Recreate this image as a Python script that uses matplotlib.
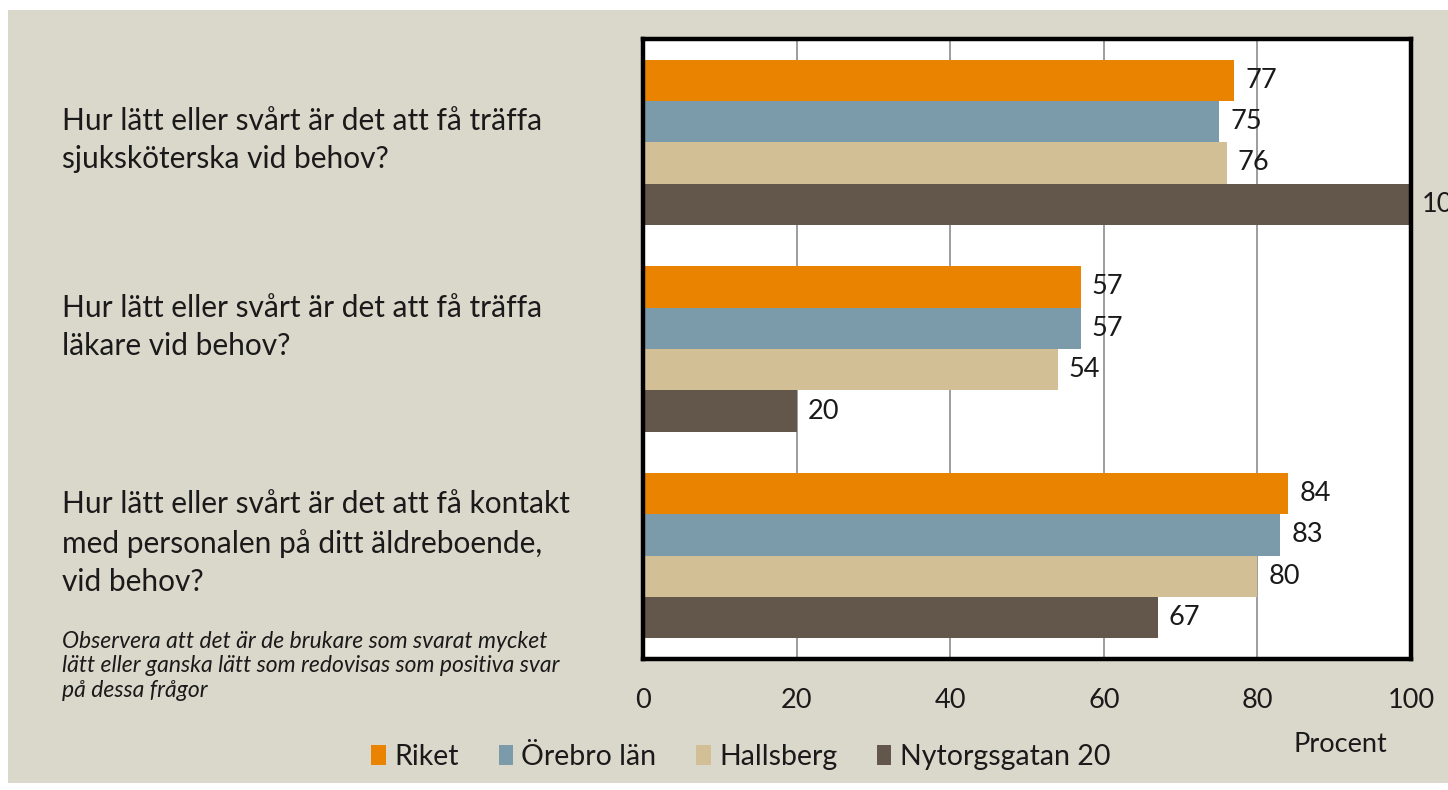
import matplotlib
matplotlib.use("Agg")
import matplotlib.pyplot as plt
from matplotlib.patches import Rectangle, Patch

# ---- data ----
questions = [
    "Hur lätt eller svårt är det att få träffa\nsjuksköterska vid behov?",
    "Hur lätt eller svårt är det att få träffa\nläkare vid behov?",
    "Hur lätt eller svårt är det att få kontakt\nmed personalen på ditt äldreboende,\nvid behov?",
]
series_names = ["Riket", "Örebro län", "Hallsberg", "Nytorgsgatan 20"]
riket = [77, 57, 84]
orebro = [75, 57, 83]
hallsberg = [76, 54, 80]
nytorg = [100, 20, 67]
series_values = [riket, orebro, hallsberg, nytorg]
colors = ["#E98300", "#7B9BAB", "#D3BF96", "#63564A"]
x_ticks = [0, 20, 40, 60, 80, 100]
note = ("Observera att det är de brukare som svarat mycket\n"
        "lätt eller ganska lätt som redovisas som positiva svar\n"
        "på dessa frågor")
x_label = "Procent"

FONT = ["Lato", "DejaVu Sans"]
plt.rcParams["font.family"] = FONT

W, H = 1448, 790
fig = plt.figure(figsize=(W / 100, H / 100), dpi=100, facecolor="white")

# beige background panel
bg = Rectangle((8 / W, 1 - 783 / H), 1 - 8 / W, (783 - 10) / H,
               transform=fig.transFigure, facecolor="#DAD7CB",
               edgecolor="none", zorder=-10)
fig.patches.append(bg)

ax = fig.add_axes([643 / W, 1 - 659 / H, (1411 - 643) / W, (659 - 39) / H])
ax.set_zorder(2)
ax.set_facecolor("white")

bar_h = 0.2
offsets = [-0.3, -0.1, 0.1, 0.3]
for name, vals, col, off in zip(series_names, series_values, colors, offsets):
    ys = [i + off for i in range(len(questions))]
    ax.barh(ys, vals, height=bar_h, color=col, label=name, zorder=3,
            clip_on=False)
    for y, v in zip(ys, vals):
        ax.annotate(f"{v}", xy=(v, y), xytext=(8, 0),
                    textcoords="offset points", va="center", ha="left",
                    fontsize=19.5, color="#1a1a1a", annotation_clip=False,
                    zorder=5)

ax.set_xlim(0, 100)
ax.set_ylim(2.5, -0.5)
ax.set_xticks(x_ticks)
ax.set_xticklabels([str(t) for t in x_ticks], fontsize=19.5, color="#1a1a1a")
ax.tick_params(axis="x", length=0, pad=21)
ax.set_yticks([])
ax.grid(axis="x", color="#8c8c8c", linewidth=1.2, zorder=1)
ax.set_axisbelow(True)
for s in ax.spines.values():
    s.set_linewidth(3.2)
    s.set_color("black")
    s.set_zorder(6)

# category labels
label_y_px = [140, 327, 543]
for q, ypx in zip(questions, label_y_px):
    fig.text(62 / W, 1 - ypx / H, q, ha="left", va="center", fontsize=21.5,
             color="#1a1a1a", linespacing=1.45)

# note
fig.text(62 / W, 1 - 666 / H, note, ha="left", va="center", fontsize=16.5,
         style="italic", color="#1a1a1a", linespacing=1.2)

# x label
fig.text(1340 / W, 1 - 744 / H, x_label, ha="center", va="center",
         fontsize=19.5, color="#1a1a1a")

# legend
handles = [Patch(facecolor=c, edgecolor="none") for c in colors]
leg = fig.legend(handles, series_names, loc="center",
                 bbox_to_anchor=(741 / W, 1 - 757 / H), ncol=4,
                 frameon=False, fontsize=20.5, handlelength=0.5,
                 handleheight=0.7, handletextpad=0.3, columnspacing=1.4)
for t in leg.get_texts():
    t.set_color("#1a1a1a")

fig.savefig("out.png", dpi=100, facecolor="white")
